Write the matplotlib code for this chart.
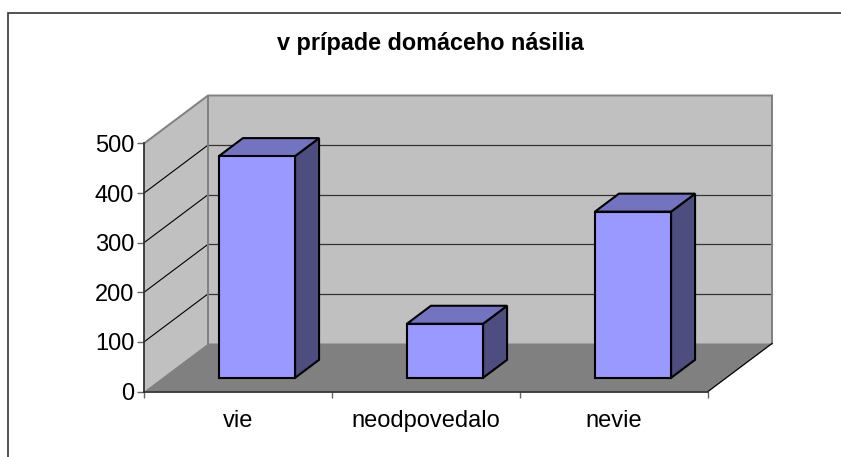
#!/usr/bin/env python3
import matplotlib
matplotlib.use('Agg')
import matplotlib.pyplot as plt
from matplotlib.lines import Line2D
from matplotlib.patches import Polygon

plt.rcParams['font.family'] = ['Liberation Sans', 'DejaVu Sans']

title = 'v prípade domáceho násilia'
categories = ['vie', 'neodpovedalo', 'nevie']
values = [447, 109, 335]
yticks = [0, 100, 200, 300, 400, 500]

W, H = 841, 457
fig = plt.figure(figsize=(W / 100, H / 100), dpi=100, facecolor='white')

# axes = front plane of the 3d box
left, right, bottom, top = 144, 708, 391.5, 143.5
ax = fig.add_axes([left / W, 1 - bottom / H, (right - left) / W, (bottom - top) / H])
ax.set_xlim(0, len(categories))
ax.set_ylim(0, 500)
ax.patch.set_visible(False)

# depth of the box in data units
dx = 64 / ((right - left) / len(categories))
dy = 48 / ((bottom - top) / 500)
xmax = len(categories)


def poly(pts, fc, ec='none', lw=0, z=1):
    ax.add_patch(Polygon(pts, closed=True, facecolor=fc, edgecolor=ec, linewidth=lw,
                         zorder=z, clip_on=False, joinstyle='miter'))


# walls and floor
poly([(0, 0), (dx, dy), (dx, 500 + dy), (0, 500)], '#C0C0C0')
poly([(dx, dy), (xmax + dx, dy), (xmax + dx, 500 + dy), (dx, 500 + dy)], '#C0C0C0')
poly([(0, 0), (xmax, 0), (xmax + dx, dy), (dx, dy)], '#808080')

for v in yticks[1:-1]:
    ax.plot([0, dx], [v, v + dy], c='black', lw=0.8, zorder=2, clip_on=False)
    ax.plot([dx, xmax + dx], [v + dy, v + dy], c='#333333', lw=0.9, zorder=2, clip_on=False)

# wall outlines
ax.plot([0, dx, xmax + dx, xmax + dx], [500, 500 + dy, 500 + dy, dy], c='#808080', lw=1.4,
        zorder=2, clip_on=False, solid_joinstyle='miter')
ax.plot([dx, dx], [dy, 500 + dy], c='#808080', lw=1.4, zorder=2, clip_on=False)
ax.plot([xmax, xmax + dx], [0, dy], c='black', lw=0.9, zorder=2, clip_on=False)

# bars
f0, f1 = 0.285, 0.66
bar_w = 0.405
for i, v in enumerate(values):
    x0 = i + 0.5 - bar_w / 2 + f0 * dx + 0.004
    x1 = x0 + bar_w
    y0 = f0 * dy
    y1 = y0 + v
    ox = (f1 - f0) * dx
    oy = (f1 - f0) * dy
    poly([(x1, y0), (x1 + ox, y0 + oy), (x1 + ox, y1 + oy), (x1, y1)], '#4D4D80', 'black', 1.5, 3)
    poly([(x0, y1), (x1, y1), (x1 + ox, y1 + oy), (x0 + ox, y1 + oy)], '#7373BF', 'black', 1.5, 3)
    poly([(x0, y0), (x1, y0), (x1, y1), (x0, y1)], '#9999FF', 'black', 1.5, 4)

# axes
for s in ['top', 'right']:
    ax.spines[s].set_visible(False)
for s in ['left', 'bottom']:
    ax.spines[s].set_color('#333333')
    ax.spines[s].set_linewidth(1.3)
    ax.spines[s].set_zorder(2.5)

ax.set_yticks(yticks)
ax.tick_params(axis='y', length=5, width=1, color='#666666', labelsize=17, pad=2, labelcolor='black')
ax.set_xticks(range(len(categories) + 1))
ax.set_xticklabels([])
ax.set_xticks([i + 0.5 for i in range(len(categories))], categories, minor=True)
ax.tick_params(axis='x', which='major', length=4.5, width=1, color='#666666')
ax.tick_params(axis='x', which='minor', length=0, labelsize=17, pad=13)

fig.text(430.5 / W, 1 - 43.5 / H, title, ha='center', va='center', fontsize=16.8, fontweight='bold')

# chart area border, only top and left are in the picture
fig.add_artist(Line2D([8 / W, 8 / W, 1], [0, 1 - 13 / H, 1 - 13 / H], c='#333333', lw=1.2,
                      solid_joinstyle='miter'))

fig.savefig('out.png', dpi=100)
